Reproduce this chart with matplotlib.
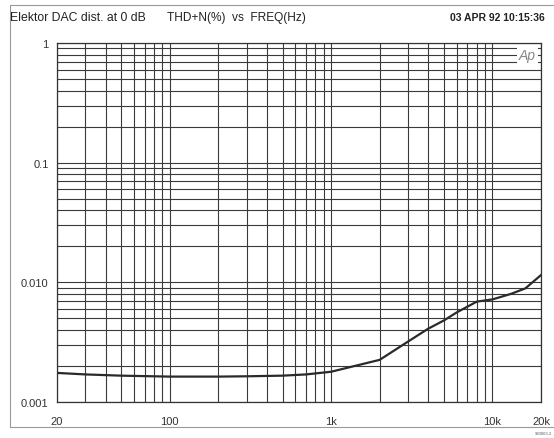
import matplotlib
matplotlib.use('Agg')
import matplotlib.pyplot as plt
import numpy as np
from matplotlib.ticker import FixedLocator, LogLocator, NullFormatter

# data
freq = [20, 30, 50, 100, 200, 300, 500, 700, 1000, 2000, 3000, 4000, 5000, 6000, 8000, 10000, 13000, 16000, 20000]
thd = [0.00175, 0.00170, 0.00166, 0.00163, 0.00163, 0.00164, 0.00166, 0.00170, 0.00179, 0.00225,
       0.0032, 0.0041, 0.0048, 0.0056, 0.0069, 0.0072, 0.0080, 0.0089, 0.0115]

xticks = [20, 100, 1000, 10000, 20000]
xlabels = ['20', '100', '1k', '10k', '20k']
yticks = [0.001, 0.01, 0.1, 1]
ylabels = ['0.001', '0.010', '0.1', '1']

plt.rcParams['font.family'] = ['Liberation Sans', 'DejaVu Sans']

fig = plt.figure(figsize=(5.54, 4.39), dpi=100)
W, H = 554, 439
ax = fig.add_axes([57 / W, (H - 403) / H, 484 / W, 359 / H])

ax.set_xscale('log')
ax.set_yscale('log')
ax.set_xlim(20, 20000)
ax.set_ylim(0.001, 1)

ax.xaxis.set_major_locator(FixedLocator(xticks))
ax.set_xticklabels(xlabels)
ax.xaxis.set_minor_locator(LogLocator(base=10, subs=np.arange(2, 10)))
ax.xaxis.set_minor_formatter(NullFormatter())
ax.yaxis.set_major_locator(FixedLocator(yticks))
ax.set_yticklabels(ylabels)
ax.yaxis.set_minor_locator(LogLocator(base=10, subs=np.arange(2, 10)))
ax.yaxis.set_minor_formatter(NullFormatter())

ax.grid(True, which='both', color='#3a3a3a', linewidth=0.8)
ax.tick_params(which='both', length=0, labelsize=8, colors='#333333')
ax.tick_params(axis='x', pad=10)
ax.tick_params(axis='y', pad=6)
for s in ax.spines.values():
    s.set_color('#333333')
    s.set_linewidth(0.9)

ax.plot(freq, thd, color='#2a2a2a', linewidth=1.6, zorder=3)

ax.text(0.99, 0.985, 'Ap', transform=ax.transAxes, ha='right', va='top',
        fontsize=10, style='italic', color='#888888',
        bbox=dict(facecolor='white', edgecolor='none', pad=1.5))

# outer frame
fig.add_artist(plt.Rectangle((10 / W, (H - 428) / H), 560 / W, 422 / H,
                             transform=fig.transFigure, fill=False,
                             edgecolor='#999999', linewidth=0.8))

fig.text(10 / W, 1 - 18 / H, 'Elektor DAC dist. at 0 dB', fontsize=8.8, va='center', color='#222222')
fig.text(167 / W, 1 - 18 / H, 'THD+N(%)  vs  FREQ(Hz)', fontsize=8.6, va='center', color='#222222')
fig.text(545 / W, 1 - 18 / H, '03 APR 92 10:15:36', fontsize=7.5, va='center', ha='right',
         color='#222222', weight='bold')
fig.text(552 / W, 1 - 434 / H, '920063-2', fontsize=3, va='center', ha='right', color='#555555')

fig.savefig('out.png', dpi=100)
